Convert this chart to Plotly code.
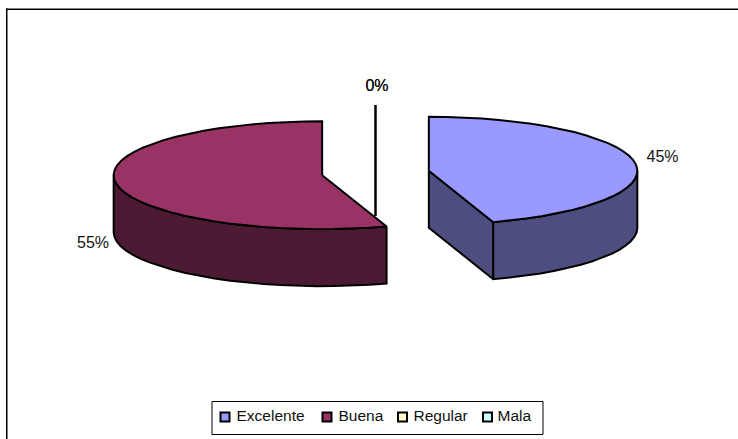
import math
import plotly.graph_objects as go

# Survey results
categories = ["Excelente", "Buena", "Regular", "Mala"]
percent_values = [45, 55, 0, 0]

top_colors = ["#9999FF", "#993366", "#FFFFCC", "#CCFFFF"]
wall_colors = ["#4D4D80", "#4D1A33", "#808066", "#668080"]

# Pie projection, in page pixels (the axes below span the page one to one)
CENTER_X, CENTER_Y = 375.5, 173.0
RADIUS_X, RADIUS_Y = 208.5, 54.0
DEPTH = 57.0
EXPLODE = 54.0
ARC_STEP = 5.0

# Where each data label sits, in page pixels
label_anchors = [(662.5, 157.5), (93, 243.5), (377, 86.5), (377, 86.5)]

# Legend layout
LEGEND_BOX = (212, 401.5, 543, 434.5)
legend_marker_x = [225, 327, 402.5, 487.5]
legend_text_x = [236.5, 338.5, 413.5, 497.5]
LEGEND_Y = 417
LEGEND_TEXT_Y = 417.5


def rim_point(cx, cy, angle, drop=0.0):
    a = math.radians(angle)
    return cx + RADIUS_X * math.sin(a), cy - RADIUS_Y * math.cos(a) + drop


def arc(cx, cy, start, end, drop=0.0):
    steps = max(1, int(math.ceil((end - start) / ARC_STEP)))
    return [rim_point(cx, cy, start + (end - start) * i / steps, drop) for i in range(steps + 1)]


def polygon(points, color, name):
    xs = [p[0] for p in points] + [points[0][0]]
    ys = [p[1] for p in points] + [points[0][1]]
    return go.Scatter(
        x=xs, y=ys, mode="lines", fill="toself", fillcolor=color,
        line=dict(color="black", width=2), name=name,
        hoverinfo="skip", showlegend=False,
    )


# Slice angles run clockwise from twelve o'clock
slices = []
running = 0.0
for name, value, top, wall in zip(categories, percent_values, top_colors, wall_colors):
    start = running * 3.6
    end = (running + value) * 3.6
    running += value
    mid = math.radians((start + end) / 2)
    cx = CENTER_X + EXPLODE * math.sin(mid)
    cy = CENTER_Y - EXPLODE * math.cos(mid) * RADIUS_Y / RADIUS_X
    slices.append(dict(name=name, start=start, end=end, cx=cx, cy=cy, top=top, wall=wall))

fig = go.Figure()

# Empty slices sit behind the others, so they are drawn first
for s in sorted(slices, key=lambda item: item["end"] > item["start"]):
    cx, cy, start, end = s["cx"], s["cy"], s["start"], s["end"]

    if end == start:
        # A zero-width slice reduces to its radial edge
        edge = rim_point(cx, cy, start)
        fig.add_trace(polygon([edge, (cx, cy), (cx, cy + DEPTH)], s["wall"], s["name"]))
    elif start == 0:
        # Cut face of the first slice looks towards the viewer
        edge = rim_point(cx, cy, end)
        lower = rim_point(cx, cy, end, DEPTH)
        fig.add_trace(polygon([(cx, cy), edge, lower, (cx, cy + DEPTH)], s["wall"], s["name"]))

    # Outer wall along the near half of the rim
    near_start, near_end = max(start, 90), min(end, 270)
    if near_end > near_start:
        upper = arc(cx, cy, near_start, near_end)
        lower = arc(cx, cy, near_start, near_end, DEPTH)
        fig.add_trace(polygon(upper + lower[::-1], s["wall"], s["name"]))

    # Top face
    if end > start:
        fig.add_trace(polygon([(cx, cy)] + arc(cx, cy, start, end), s["top"], s["name"]))

# Data labels
for value, (lx, ly) in zip(percent_values, label_anchors):
    fig.add_trace(go.Scatter(
        x=[lx], y=[ly], mode="text", text=[f"{value}%"], textposition="middle center",
        textfont=dict(family="Liberation Sans", size=16, color="#111111"),
        hoverinfo="skip", showlegend=False,
    ))

# Legend swatches and captions
fig.add_trace(go.Scatter(
    x=legend_marker_x, y=[LEGEND_Y] * len(categories), mode="markers",
    marker=dict(symbol="square", size=9, color=top_colors, line=dict(color="black", width=2)),
    hoverinfo="skip", showlegend=False,
))
fig.add_trace(go.Scatter(
    x=legend_text_x, y=[LEGEND_TEXT_Y] * len(categories), mode="text", text=categories,
    textposition="middle right",
    textfont=dict(family="Liberation Sans", size=15.5, color="#111111"),
    hoverinfo="skip", showlegend=False,
))

x0, y0, x1, y1 = LEGEND_BOX
shapes = [
    dict(type="rect", x0=x0, y0=y0, x1=x1, y1=y1, line=dict(color="black", width=1),
         fillcolor="white", layer="below"),
    dict(type="line", x0=6, y0=9.25, x1=738, y1=9.25, line=dict(color="black", width=1.5)),
    dict(type="line", x0=6.75, y0=8.5, x1=6.75, y1=439, line=dict(color="black", width=1.5)),
]

fig.update_layout(
    width=738, height=439,
    margin=dict(l=0, r=0, t=0, b=0),
    paper_bgcolor="white", plot_bgcolor="white",
    showlegend=False,
    shapes=shapes,
    xaxis=dict(range=[0, 738], visible=False, fixedrange=True),
    yaxis=dict(range=[439, 0], visible=False, fixedrange=True),
)

fig.write_html("out.html", config=dict(displayModeBar=False))
